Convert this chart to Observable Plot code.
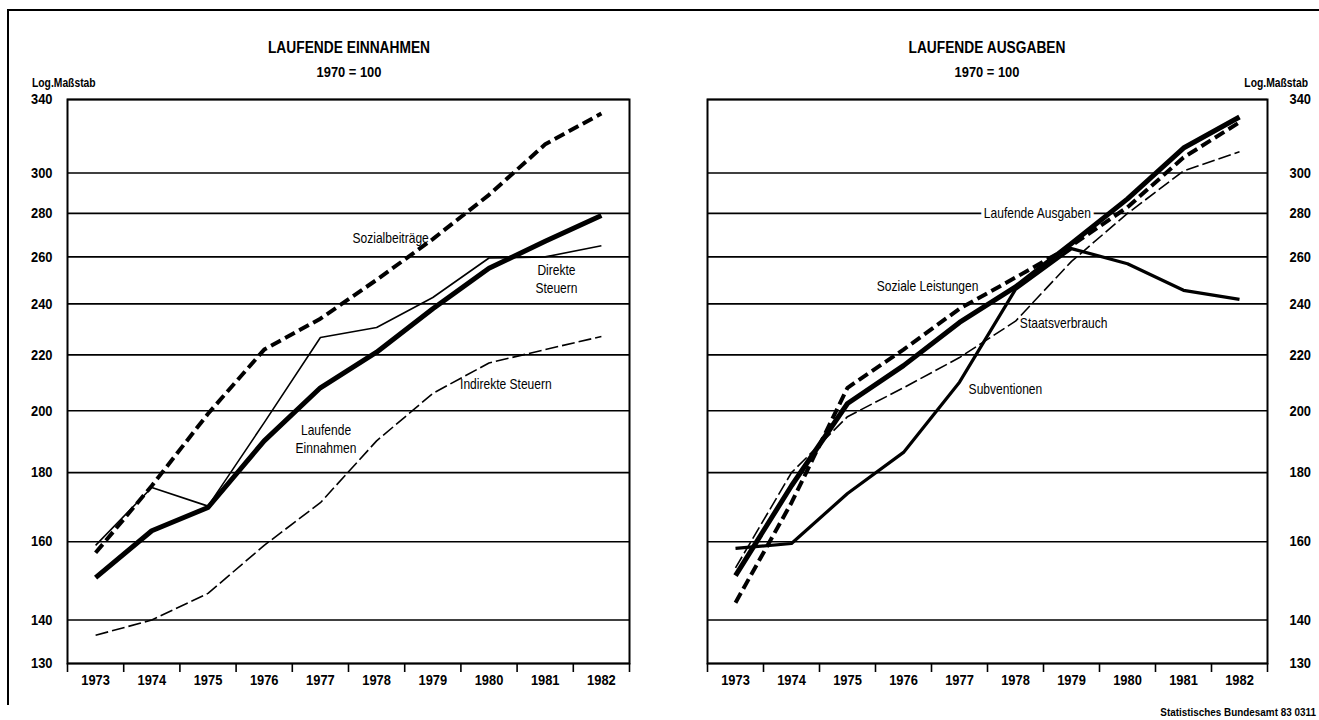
<!DOCTYPE html>
<html>
<head>
<meta charset="utf-8">
<script src="https://cdn.jsdelivr.net/npm/d3@7"></script>
<script src="https://cdn.jsdelivr.net/npm/@observablehq/plot@0.6"></script>
<style>
  html, body { margin: 0; padding: 0; background: #fff; }
  #page { position: relative; width: 1319px; height: 720px; overflow: hidden;
    font-family: "Liberation Sans", Arial, sans-serif; color: #000; }
  #border { position: absolute; left: 7px; top: 9px; width: 1330px; height: 694px;
    border-top: 2px solid #000; border-left: 2px solid #000; }
  .t { position: absolute; font-weight: bold; white-space: nowrap; line-height: 1; }
  .c { transform: translateX(-50%) scaleX(0.86); }
  .l { transform: scaleX(0.86); transform-origin: left center; }
  .r { transform: scaleX(0.86); transform-origin: right center; }
  .chart { position: absolute; top: 80px; }
  .chart svg { display: block; overflow: visible; }
</style>
</head>
<body>
<div id="page">
  <div id="border"></div>
  <div class="t c" style="left:349px; top:40px; font-size:16px;">LAUFENDE EINNAHMEN</div>
  <div class="t c" style="left:349px; top:64px; font-size:15px;">1970 = 100</div>
  <div class="t l" style="left:32px; top:77px; font-size:12px;">Log.Maßstab</div>
  <div class="t c" style="left:987px; top:40px; font-size:16px;">LAUFENDE AUSGABEN</div>
  <div class="t c" style="left:987px; top:64px; font-size:15px;">1970 = 100</div>
  <div class="t r" style="right:11px; top:77px; font-size:12px;">Log.Maßstab</div>
  <div id="left" class="chart" style="left:0px;"></div>
  <div id="right" class="chart" style="left:660px;"></div>
  <div class="t r" style="right:3px; top:707px; font-size:11.5px;">Statistisches Bundesamt 83 0311</div>
</div>
<script>
// ---------- data ----------
const years = [1973, 1974, 1975, 1976, 1977, 1978, 1979, 1980, 1981, 1982];
const yTicks = [130, 140, 160, 180, 200, 220, 240, 260, 280, 300, 340];

// Laufende Einnahmen (1970 = 100)
const laufendeEinnahmen = [150.5, 163, 169.6, 190, 208, 221, 238, 255, 267, 279];
const sozialbeitraege   = [157, 176, 199, 222, 234, 250, 268, 289, 315, 332];
const direkteSteuern    = [159, 175.5, 170, 196, 226.6, 230.5, 242.6, 259.5, 260, 265];
const indirekteSteuern  = [136.4, 140, 146.5, 159, 171, 190, 206, 217, 222, 227];

// Laufende Ausgaben (1970 = 100)
const laufendeAusgaben  = [151, 176, 202.5, 216, 232.5, 247, 266, 287, 313, 330];
const sozialeLeistungen = [144.2, 171, 208, 222, 238, 251, 265, 283, 308, 327];
const staatsverbrauch   = [153, 180, 198, 208, 219, 233, 258, 280, 301, 311];
const subventionen      = [158.2, 159.5, 173.7, 186.3, 210, 246, 263.7, 257, 245.6, 241.8];

// series labels (anchor in data space: year, index value)
const leftLabels = [
  {year: 1978.25, value: 268.6, text: "Sozialbeiträge"},
  {year: 1981.2, value: 250.7, text: "Direkte\nSteuern"},
  {year: 1980.3, value: 209.6, text: "Indirekte Steuern"},
  {year: 1977.1, value: 190.8, text: "Laufende\nEinnahmen"}
];
const rightLabels = [
  {year: 1976.43, value: 247.6, text: "Soziale Leistungen"},
  {year: 1978.86, value: 232.4, text: "Staatsverbrauch"},
  {year: 1977.82, value: 207.8, text: "Subventionen"}
];
const rightHaloLabels = [
  {year: 1978.39, value: 280, text: "Laufende Ausgaben"}
];

// ---------- helpers ----------
const FONT = '"Liberation Sans", Arial, sans-serif';
const CONDENSE = 0.86;
const bounds = d3.range(years.length + 1).map(i => years[0] - 0.5 + i);
const rows = vals => years.map((year, i) => ({year, value: vals[i]}));

const styles = {
  thick:      {strokeWidth: 5},
  thickDash:  {strokeWidth: 4, strokeDasharray: "11,5"},
  thin:       {strokeWidth: 1.6},
  thinDash:   {strokeWidth: 1.6, strokeDasharray: "13,4"},
  medium:     {strokeWidth: 3.2}
};

function line(vals, style) {
  return Plot.line(rows(vals), {
    x: "year", y: "value", stroke: "#000",
    strokeLinejoin: "round", strokeLinecap: "butt", ...styles[style]
  });
}

// narrow the typeface (the original uses a condensed grotesque)
function condense(svg) {
  svg.querySelectorAll("text").forEach(t => {
    const tr = t.getAttribute("transform") || "";
    t.setAttribute("transform", `${tr} scale(${CONDENSE},1)`.trim());
  });
  return svg;
}

function panel({side, width, marginLeft, marginRight, series, labels, haloLabels = []}) {
  return condense(Plot.plot({
    width, height: 620,
    marginTop: 19, marginBottom: 37, marginLeft, marginRight,
    x: {type: "linear", domain: [bounds[0], bounds[bounds.length - 1]]},
    y: {type: "log", domain: [130, 340]},
    style: {fontFamily: FONT, fontSize: "15px", fontWeight: "bold", background: "transparent", color: "#000"},
    marks: [
      Plot.gridY({ticks: yTicks, stroke: "#000", strokeOpacity: 1, strokeWidth: 1.6}),
      Plot.axisY({ticks: yTicks, anchor: side, tickSize: 0, tickPadding: side === "left" ? 15 : 22,
        tickFormat: d => String(d), label: null}),
      Plot.axisX({ticks: bounds, anchor: "bottom", tickSize: 9, tickFormat: () => "", label: null,
        stroke: "#000", strokeWidth: 1.6}),
      Plot.axisX({ticks: years, anchor: "bottom", tickSize: 0, tickPadding: 11,
        tickFormat: d => String(d), label: null}),
      Plot.frame({stroke: "#000", strokeWidth: 2}),
      Plot.text(haloLabels, {x: "year", y: "value", text: "text", fontSize: 14, fontWeight: "normal",
        fill: "#000", stroke: "#fff", strokeWidth: 8, paintOrder: "stroke"}),
      ...series.map(([vals, style]) => line(vals, style)),
      Plot.text(labels, {x: "year", y: "value", text: "text", fontSize: 14, fontWeight: "normal",
        fill: "#000", lineHeight: 1.25})
    ]
  }));
}

document.getElementById("left").append(panel({
  side: "left", width: 660, marginLeft: 67, marginRight: 31,
  series: [
    [indirekteSteuern, "thinDash"],
    [direkteSteuern, "thin"],
    [sozialbeitraege, "thickDash"],
    [laufendeEinnahmen, "thick"]
  ],
  labels: leftLabels
}));

document.getElementById("right").append(panel({
  side: "right", width: 659, marginLeft: 47, marginRight: 52,
  series: [
    [staatsverbrauch, "thinDash"],
    [subventionen, "medium"],
    [sozialeLeistungen, "thickDash"],
    [laufendeAusgaben, "thick"]
  ],
  labels: rightLabels,
  haloLabels: rightHaloLabels
}));
</script>
</body>
</html>
